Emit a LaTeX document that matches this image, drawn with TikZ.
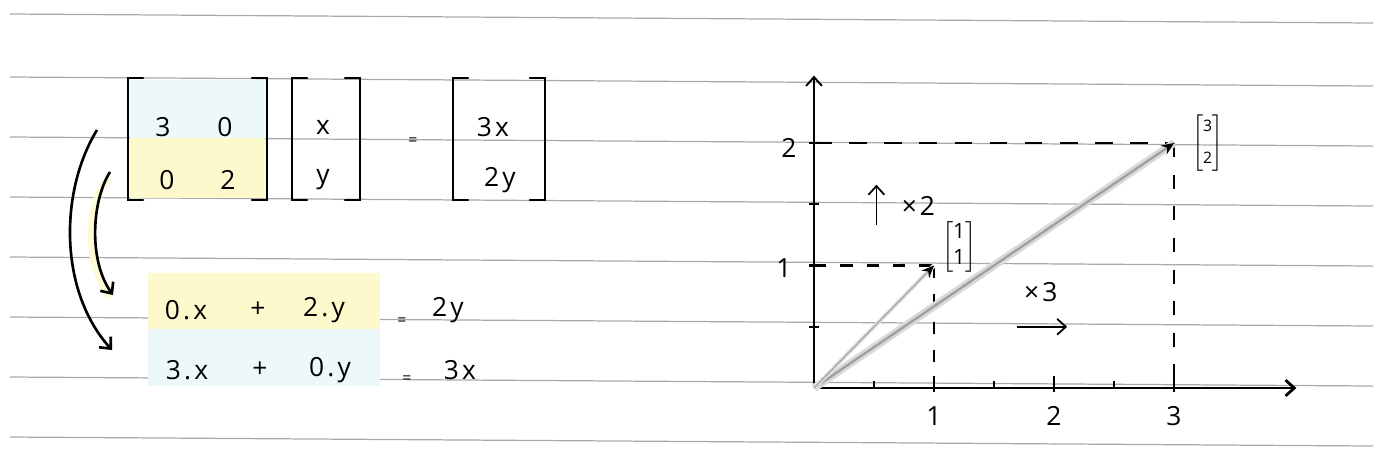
\documentclass[tikz,border=0pt]{standalone}
\usepackage{amsmath}
\usepackage{fontspec}
\setsansfont{Open Sans}[LetterSpace=12]
\usepackage{xcolor}
\usepackage{tikz}
\usetikzlibrary{arrows.meta,positioning}
\definecolor{PadBlue}{HTML}{ECF8F9}
\definecolor{PadYellow}{HTML}{FCF9CC}
\definecolor{RuleGray}{HTML}{A9A9A9}

\begin{document}
\begin{tikzpicture}[x=1cm,y=1cm,font=\sffamily\fontsize{15}{17}\selectfont,>={Straight Barb[length=5pt,width=9pt]}]
  \tikzset{
    rule/.style={RuleGray,line width=.7pt},
    cell/.style={minimum width=2.7cm,inner sep=0pt,outer sep=0pt},
    mat/.style={minimum height=2.44cm,inner sep=0pt,outer sep=0pt},
    brk/.style={line width=1.5pt,line cap=round},
    hand/.style={line width=1.5pt,->},
    axis/.style={line width=1.1pt,->},
    tick/.style={line width=1.2pt},
    small/.style={font=\sffamily\small},
    vlab/.style={inner sep=1pt,font=\sffamily\fontsize{12}{13}\selectfont},
    vec/.style={-{Stealth[length=7pt,width=6pt,black]}}
  }
  \fill[white] (0,0) rectangle (28,-9.02);
  \useasboundingbox (0,0) rectangle (28,-9.02);
  \foreach \ly in {0.28,1.54,2.74,3.94,5.14,6.34,7.54,8.74}
    \draw[rule] (0.2,-\ly) -- (27.46,-\ly-0.18);

  \node[cell,fill=PadBlue,minimum height=1.16cm] (a1) at (3.95,-2.18) {};
  \node[cell,fill=PadYellow,minimum height=1.2cm] (a2) at (3.95,-3.36) {};
  \node[mat,minimum width=2.78cm] (mA) at (3.95,-2.78) {};
  \node[mat,minimum width=1.36cm] (mX) at (6.52,-2.78) {};
  \node[mat,minimum width=1.84cm] (mB) at (9.98,-2.78) {};
  \foreach \m in {mA,mX,mB}{
    \draw[brk] ([xshift=.3cm]\m.north west) -- (\m.north west) -- (\m.south west) -- ++(.3,0);
    \draw[brk] ([xshift=-.3cm]\m.north east) -- (\m.north east) -- (\m.south east) -- ++(-.3,0);
  }
  \node (a11) at (3.26,-2.54) {3};
  \node (a12) at (4.50,-2.54) {0};
  \node (a21) at (3.34,-3.60) {0};
  \node (a22) at (4.56,-3.60) {2};
  \node (vx) at (6.46,-2.54) {x};
  \node (vy) at (6.46,-3.60) {y};
  \node[small] (eq0) at (8.26,-2.84) {=};
  \node (bx) at (9.86,-2.54) {3x};
  \node (by) at (10.0,-3.60) {2y};

  \node[cell,fill=PadYellow,minimum width=4.64cm,minimum height=1.12cm] (row1) at (5.28,-6.02) {};
  \node[cell,fill=PadBlue,minimum width=4.64cm,minimum height=1.14cm] (row2) at (5.28,-7.15) {};
  \node (t11) at (3.72,-6.2) {0.x};
  \node (t12) at (5.16,-6.2) {+};
  \node (t13) at (6.48,-6.2) {2.y};
  \node[small] (eq1) at (8.04,-6.44) {=};
  \node (t14) at (8.96,-6.2) {2y};
  \node (t21) at (3.74,-7.4) {3.x};
  \node (t22) at (5.20,-7.4) {+};
  \node (t23) at (6.60,-7.4) {0.y};
  \node[small] (eq2) at (8.14,-7.6) {=};
  \node (t24) at (9.20,-7.4) {3x};

  \coordinate (bigS) at (1.94,-2.6);
  \coordinate (bigE) at (2.24,-7.0);
  \coordinate (smS) at (2.2,-3.44);
  \coordinate (smE) at (2.26,-5.9);
  \draw[PadYellow!80,line width=4pt,line cap=round] (2.14,-3.6) .. controls (1.74,-4.1) and (1.68,-5.2) .. (2.18,-5.9);
  \draw[hand] (bigS) .. controls (1.2,-3.8) and (1.16,-5.8) .. (bigE);
  \draw[hand] (smS) .. controls (1.84,-4.0) and (1.76,-5.2) .. (smE);

  \begin{scope}[shift={(16.28,-7.76)},x=2.4cm,y=2.45cm]
    \coordinate (O) at (0,0);
    \coordinate (xend) at (4.02,0);
    \coordinate (yend) at (0,2.55);
    \coordinate (p1) at (1,1);
    \coordinate (p2) at (3,2);
    \draw[line width=1.6pt,dash pattern=on 10pt off 10pt] (O |- p2) -- (p2);
    \draw[line width=1.1pt,dash pattern=on 8pt off 10pt] (p2) -- (p2 |- O);
    \draw[line width=1.3pt,dash pattern=on 7pt off 8pt] (O |- p1) -- (p1);
    \draw[line width=1.1pt,dash pattern=on 7pt off 9pt] (p1) -- (p1 |- O);
    \draw[axis,line width=1.6pt] (O) -- (xend);
    \draw[axis] (O) -- (yend);
    \foreach \t in {1,2,3} \draw[tick] (\t,-0.03) -- (\t,0.1);
    \foreach \t in {0.5,1.5,2.5} \draw[tick] (\t,0) -- (\t,0.06);
    \foreach \t in {0.5,1,1.5,2} \draw[tick] (-0.04,\t) -- (0.04,\t);
    \foreach \t in {1,2,3} \node (xl\t) at (\t,-0.23) {\t};
    \node (yl1) at (-0.25,0.98) {1};
    \node (yl2) at (-0.21,1.96) {2};
    \draw[gray!30,line width=4.5pt] (O) -- (p2);
    \draw[vec,gray!75,line width=1.3pt] (O) -- (p2);
    \draw[gray!20,line width=2.5pt] (O) -- (p1);
    \draw[vec,gray!65,line width=.9pt] (O) -- (p1);
    \node[vlab] (l1) at (1.21,1.15)
      {$\left[\begin{tabular}{@{}c@{}}1\\[2pt]1\end{tabular}\right]$};
    \node[vlab,font=\sffamily\fontsize{9}{12}\selectfont] (l2) at (3.28,2.0)
      {$\left[\begin{tabular}{@{}c@{}}3\\[6pt]2\end{tabular}\right]$};
    \coordinate (u1) at (0.52,1.33);
    \coordinate (u2) at (0.52,1.66);
    \draw[hand,line width=1pt] (u1) -- (u2);
    \node (m2) at (0.87,1.49) {×2};
    \node (m3) at (1.89,0.78) {×3};
    \coordinate (s1) at (1.69,0.5);
    \coordinate (s2) at (2.11,0.5);
    \draw[hand,line width=1pt] (s1) -- (s2);
  \end{scope}
\end{tikzpicture}
\end{document}
